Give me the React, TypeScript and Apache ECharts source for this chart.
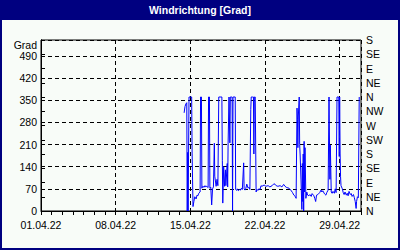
import { useEffect, useRef } from 'react';
import * as echarts from 'echarts';

const TITLE = 'Windrichtung [Grad]';
const Y_UNIT = 'Grad';
const X_MAX_HOURS = 720; // 01.04.22 00:00 .. 01.05.22 00:00
const WEEK_LABELS = ['01.04.22', '08.04.22', '15.04.22', '22.04.22', '29.04.22'];
const COMPASS = ['N', 'NE', 'E', 'SE', 'S', 'SW', 'W', 'NW', 'N', 'NE', 'E', 'SE', 'S'];

// hours since 01.04.22 00:00
const hours = [
  322, 324, 326, 328, 329, 330, 331, 333, 335, 337, 339, 340, 341, 342, 344, 346, 349, 351, 353, 355,
  358, 359, 361, 362, 364, 367, 369, 371, 373, 376, 377, 379, 380, 382, 384, 386, 388, 390, 391, 394,
  396, 398, 400, 403, 405, 407, 408, 409, 411, 413, 415, 416, 419, 420, 421, 423, 425, 426, 428, 430,
  431, 432, 434, 437, 438, 440, 442, 444, 447, 449, 451, 453, 456, 457, 459, 461, 463, 466, 468, 470,
  472, 473, 476, 478, 479, 480, 482, 484, 486, 488, 490, 493, 495, 497, 502, 506, 511, 515, 520, 524,
  527, 529, 533, 538, 542, 546, 549, 553, 558, 562, 566, 569, 572, 574, 576, 577, 578, 579, 581, 582,
  583, 584, 585, 587, 588, 589, 590, 591, 592, 593, 594, 596, 598, 600, 603, 605, 608, 610, 614, 616,
  618, 620, 623, 627, 630, 632, 634, 638, 641, 643, 646, 648, 650, 651, 653, 655, 657, 660, 662, 664,
  666, 667, 670, 671, 672, 673, 674, 675, 678, 680, 682, 684, 687, 689, 691, 693, 696, 698, 700, 703,
  705, 707, 709, 710, 712, 714, 716, 717,
];

// wind direction in degrees
const values = [
  310, 330, 338, 342, 0, 185, 0, 360, 360, 360, 360, 183, 183, 14, 30, 45, 38, 50, 48, 56,
  60, 360, 360, 72, 78, 75, 80, 76, 78, 74, 360, 360, 72, 75, 19, 70, 76, 214, 110, 78,
  100, 80, 360, 360, 360, 360, 160, 25, 140, 78, 130, 80, 150, 76, 215, 360, 215, 360, 360, 360,
  0, 360, 360, 360, 68, 65, 70, 64, 68, 66, 72, 68, 152, 70, 66, 72, 85, 72, 75, 68,
  320, 360, 360, 360, 180, 360, 360, 60, 68, 65, 70, 68, 80, 78, 82, 78, 80, 76, 80, 86,
  84, 80, 78, 80, 76, 84, 78, 74, 72, 66, 58, 50, 46, 40, 325, 290, 200, 300, 360, 210,
  180, 140, 98, 5, 150, 30, 180, 0, 220, 60, 200, 40, 60, 50, 48, 52, 46, 55, 48, 40,
  30, 50, 52, 58, 66, 60, 64, 54, 50, 58, 66, 360, 100, 208, 60, 56, 62, 56, 70, 58,
  360, 360, 360, 172, 360, 183, 108, 80, 70, 58, 52, 60, 50, 56, 48, 62, 52, 55, 46, 52,
  42, 30, 8, 30, 45, 42, 360, 360,
];

const FONT = '"Liberation Sans", Arial, sans-serif';
const NAVY = '#000080';

export default function App() {
  const ref = useRef<HTMLDivElement>(null);

  useEffect(() => {
    if (!ref.current) return;
    const chart = echarts.init(ref.current, undefined, { renderer: 'svg' });
    const data = hours.map((h, i) => [h, values[i]]);
    chart.setOption({
      animation: false,
      backgroundColor: '#f8fcf8',
      grid: {
        left: 41,
        right: 39,
        top: 40,
        bottom: 39,
        show: true,
        borderColor: '#000',
        borderWidth: 1,
      },
      xAxis: [
        {
          type: 'value',
          position: 'bottom',
          min: 0,
          max: X_MAX_HOURS,
          interval: 24,
          axisLine: { show: true, lineStyle: { color: '#000', width: 1 } },
          axisTick: { show: true, length: 4, lineStyle: { color: '#000' } },
          axisLabel: { show: false },
          splitLine: { show: false },
        },
        {
          type: 'value',
          position: 'bottom',
          min: 0,
          max: X_MAX_HOURS,
          interval: 168,
          axisLine: { show: false },
          axisTick: { show: false },
          axisLabel: {
            margin: 8,
            color: '#000',
            fontFamily: FONT,
            fontSize: 10.5,
            formatter: (v: number) => {
              const i = Math.round(v / 168);
              return v % 168 === 0 && i < WEEK_LABELS.length ? WEEK_LABELS[i] : '';
            },
          },
          splitLine: { show: true, lineStyle: { color: '#000', width: 1, type: [4, 3] } },
        },
      ],
      yAxis: [
        {
          type: 'value',
          position: 'left',
          min: 0,
          max: 540,
          interval: 70,
          axisLine: { show: true, lineStyle: { color: '#000' } },
          axisTick: { show: false },
          axisLabel: {
            margin: 4,
            color: '#000',
            fontFamily: FONT,
            fontSize: 10.5,
            formatter: (v: number) => (v > 500 ? '' : String(v)),
          },
          splitLine: { show: true, lineStyle: { color: '#000', width: 1, type: [4, 3] } },
        },
        {
          type: 'value',
          position: 'right',
          min: 0,
          max: 540,
          interval: 45,
          axisLine: { show: true, lineStyle: { color: '#000' } },
          axisTick: { show: true, length: 4, lineStyle: { color: '#000' } },
          axisLabel: {
            margin: 5,
            color: '#000',
            fontFamily: FONT,
            fontSize: 10.5,
            formatter: (v: number) => COMPASS[Math.round(v / 45)] ?? '',
          },
          splitLine: { show: false },
        },
      ],
      graphic: [
        {
          type: 'rect',
          left: 0,
          top: 0,
          shape: { x: 0, y: 0, width: 400, height: 20 },
          style: { fill: NAVY },
          z: 10,
        },
        {
          type: 'text',
          x: 200,
          y: 10,
          style: {
            text: TITLE,
            align: 'center',
            verticalAlign: 'middle',
            fill: '#fff',
            font: `bold 10.5px ${FONT}`,
          },
          z: 11,
        },
        {
          type: 'rect',
          shape: { x: 1, y: 1, width: 398, height: 248 },
          style: { fill: 'none', stroke: NAVY, lineWidth: 2 },
          z: 12,
        },
        {
          type: 'text',
          x: 37,
          y: 45,
          style: {
            text: Y_UNIT,
            align: 'right',
            verticalAlign: 'middle',
            fill: '#000',
            font: `10.5px ${FONT}`,
          },
          z: 11,
        },
      ],
      series: [
        {
          type: 'line',
          xAxisIndex: 0,
          yAxisIndex: 0,
          data,
          showSymbol: false,
          symbol: 'none',
          lineStyle: { color: '#0000ff', width: 1 },
          itemStyle: { color: '#0000ff' },
        },
      ],
    });
    return () => chart.dispose();
  }, []);

  return (
    <div
      ref={ref}
      style={{ position: 'fixed', left: 0, top: 0, width: 400, height: 250 }}
    />
  );
}
